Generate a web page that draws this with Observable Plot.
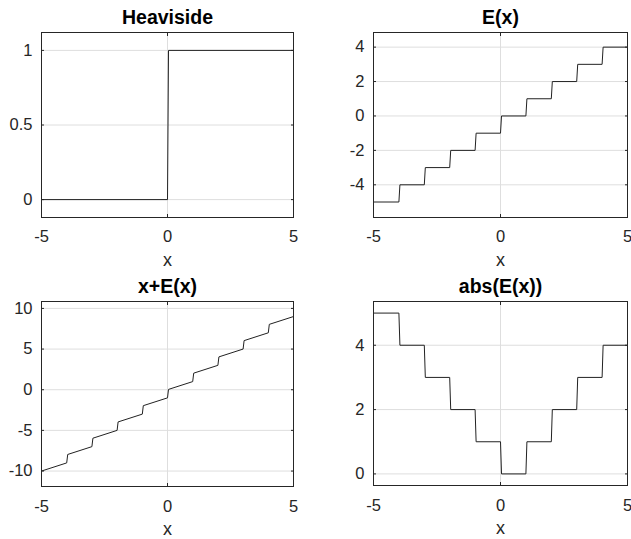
<!DOCTYPE html>
<html><head><meta charset="utf-8">
<script src="https://cdn.jsdelivr.net/npm/d3@7"></script>
<script src="https://cdn.jsdelivr.net/npm/@observablehq/plot@0.6"></script>
<style>
html,body{margin:0;padding:0;background:#fff;overflow:hidden;width:631px;height:539px}
#wrap{position:relative;width:631px;height:539px}
.panel{position:absolute}
</style></head><body><div id="wrap"></div>
<script>
// ---- data ----
const xTicks = [-5, 0, 5];
const titles = ["Heaviside", "E(x)", "x+E(x)", "abs(E(x))"];
const heavisideX = [-5, 0, 0.04, 5];
const heavisideY = [0, 0, 1, 1];
const stepX = [-5, -4, -3.96, -3, -2.96, -2, -1.96, -1, -0.96, 0, 0.04, 1, 1.04, 2, 2.04, 3, 3.04, 4, 4.04, 5];
const floorY = [-5, -5, -4, -4, -3, -3, -2, -2, -1, -1, 0, 0, 1, 1, 2, 2, 3, 3, 4, 4];
const xPlusFloorY = [-10, -9, -7.96, -7, -5.96, -5, -3.96, -3, -1.96, -1, 0.04, 1, 2.04, 3, 4.04, 5, 6.04, 7, 8.04, 9];
const absFloorY = [5, 5, 4, 4, 3, 3, 2, 2, 1, 1, 0, 0, 1, 1, 2, 2, 3, 3, 4, 4];
const yTicksHeaviside = [0, 0.5, 1];
const yTicksFloor = [-4, -2, 0, 2, 4];
const yTicksSum = [-10, -5, 0, 5, 10];
const yTicksAbs = [0, 2, 4];
const yDomainHeaviside = [-0.12, 1.12];
const yDomainFloor = [-5.9, 4.85];
const yDomainSum = [-11.9, 10.85];
const yDomainAbs = [-0.36, 5.36];

const FONT = '"Liberation Sans", Arial, Helvetica, sans-serif';
const fmt = d => String(d);

function drawPanel(p) {
  const data = p.xs.map((x, i) => ({x, y: p.ys[i]}));
  const chart = Plot.plot({
    width: p.width, height: p.height,
    marginLeft: p.ml, marginRight: p.mr, marginTop: p.mt, marginBottom: p.mb,
    style: {fontFamily: FONT, color: "#262626", background: "#fff", overflow: "visible"},
    x: {domain: [-5, 5]},
    y: {domain: p.yDomain},
    marks: [
      Plot.gridX(xTicks, {stroke: "#dedede", strokeOpacity: 1}),
      Plot.gridY(p.yTicks, {stroke: "#dedede", strokeOpacity: 1}),
      Plot.axisX(xTicks, {anchor: "bottom", tickSize: 0, tickPadding: p.xPad, tickFormat: fmt, fontSize: 16.5, label: null}),
      Plot.axisY(p.yTicks, {anchor: "left", tickSize: 0, tickPadding: 9, tickFormat: fmt, fontSize: 16.5, label: null}),
      Plot.axisX(xTicks, {anchor: "bottom", tickSize: -3, text: null, label: null, stroke: "#262626"}),
      Plot.axisX(xTicks, {anchor: "top", tickSize: -3, text: null, label: null, stroke: "#262626"}),
      Plot.axisY(p.yTicks, {anchor: "left", tickSize: -3, text: null, label: null, stroke: "#262626"}),
      Plot.axisY(p.yTicks, {anchor: "right", tickSize: -3, text: null, label: null, stroke: "#262626"}),
      Plot.line(data, {x: "x", y: "y", stroke: "#222", strokeWidth: 1}),
      Plot.frame({stroke: "#262626"}),
      Plot.text([p.title], {frameAnchor: "top", lineAnchor: "top", dy: -22, fontSize: 19.5, fontWeight: "bold", fill: "#000"}),
      Plot.text(["x"], {frameAnchor: "bottom", lineAnchor: "top", dy: p.xLabelDy, fontSize: 18, fill: "#262626"})
    ]
  });
  const div = document.createElement("div");
  div.className = "panel";
  div.style.left = p.left + "px";
  div.style.top = p.top + "px";
  div.style.width = p.width + "px";
  div.style.height = p.height + "px";
  div.appendChild(chart);
  document.getElementById("wrap").appendChild(div);
}

drawPanel({title: titles[0], xs: heavisideX, ys: heavisideY, yTicks: yTicksHeaviside, yDomain: yDomainHeaviside,
  left: 0, top: 0, width: 315, height: 270, ml: 41, mr: 22, mt: 32, mb: 53, xPad: 13, xLabelDy: 36});
drawPanel({title: titles[1], xs: stepX, ys: floorY, yTicks: yTicksFloor, yDomain: yDomainFloor,
  left: 315, top: 0, width: 316, height: 270, ml: 58, mr: 4, mt: 32, mb: 53, xPad: 13, xLabelDy: 36});
drawPanel({title: titles[2], xs: stepX, ys: xPlusFloorY, yTicks: yTicksSum, yDomain: yDomainSum,
  left: 0, top: 270, width: 315, height: 269, ml: 41, mr: 22, mt: 31, mb: 53, xPad: 14, xLabelDy: 35.5});
drawPanel({title: titles[3], xs: stepX, ys: absFloorY, yTicks: yTicksAbs, yDomain: yDomainAbs,
  left: 315, top: 270, width: 316, height: 269, ml: 58, mr: 4, mt: 31, mb: 54, xPad: 14, xLabelDy: 35.5});
</script></body></html>
